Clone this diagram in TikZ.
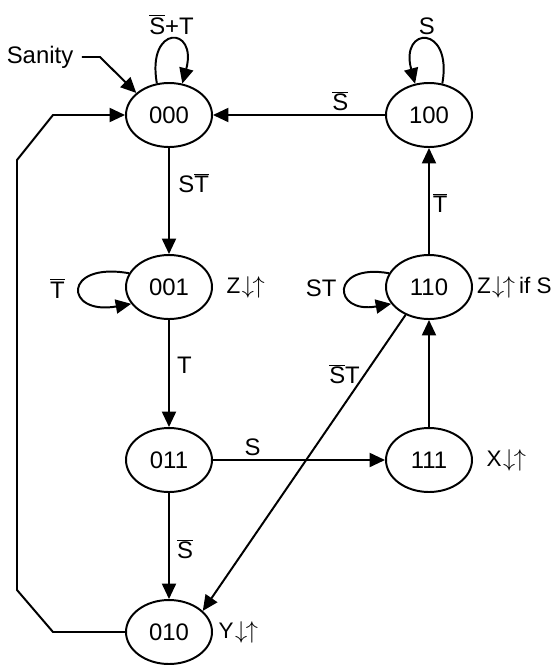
\documentclass[tikz,border=0pt]{standalone}
\usepackage{fontspec}
\setmainfont{Liberation Sans}
\usetikzlibrary{arrows.meta,positioning,shapes.geometric}
\newcommand\statefont{\fontsize{17}{20}\selectfont}
\newcommand\outfont{\fontsize{16}{19}\selectfont}
\newcommand\nt[1]{$\overline{\mbox{#1}}$}
\newcommand\dnup{$\mkern1mu\downarrow\mkern-1mu\uparrow$}
\tikzset{
  state/.style={ellipse, draw=black, line width=1.4pt, minimum width=2.15cm,
    minimum height=1.6cm, inner sep=0pt, font=\statefont},
  flow/.style={-{Triangle[length=11pt,width=10pt]}, draw=black, line width=1.4pt},
}
\begin{document}
\begin{tikzpicture}[
  lbl/.style={font=\statefont, inner sep=1pt},
  outlbl/.style={font=\outfont, inner sep=1pt},
]
\useasboundingbox (0,0) rectangle (14,-16.65);
% states
\node[state] at (4.225,-2.875)  (s000) {000};
\node[state] at (4.225,-7.175)  (s001) {001};
\node[state] at (4.225,-11.5)   (s011) {011};
\node[state] at (4.225,-15.8)   (s010) {010};
\node[state] at (10.725,-2.875) (s100) {100};
\node[state] at (10.725,-7.175) (s110) {110};
\node[state] at (10.725,-11.5)  (s111) {111};
% outputs
\node[outlbl, right=0.3 of s001] (o001) {Z\dnup};
\node[outlbl, right=0.06 of s110] (o110) {Z\dnup\hspace{0.18em}if S};
\node[outlbl, right=0.3 of s111] (o111) {X\dnup};
\node[outlbl, right=0.1 of s010] (o010) {Y\dnup};
% sanity entry
\node[lbl] at (1.0,-1.425) (sanity) {Sanity};
\coordinate (sbend) at (2.5,-1.425);
\draw[flow, shorten <=5pt] (sanity) -- (sbend) -- (s000.146);
% return path 010 -> 000
\coordinate (r1) at (1.325,-15.8);
\coordinate (r2) at (0.425,-14.75);
\coordinate (r3) at (0.425,-4.0);
\coordinate (r4) at (1.325,-2.875);
\draw[flow] (s010.west) -- (r1) -- (r2) -- (r3) -- (r4) -- (s000.west);
% self loops
\draw[flow] (s000.111) .. controls +(100:1.5) and +(75:1.5) .. node[lbl, above=2pt] {\nt{S}+T} (s000.67);
\draw[flow] (s100.67) .. controls +(80:1.5) and +(105:1.5) .. node[lbl, above=2pt] {S} (s100.114);
\draw[flow] (s001.161) .. controls +(170:1.7) and +(190:1.7) .. node[lbl, left=9pt] {\nt{T}} (s001.204);
\draw[flow] (s110.161) .. controls +(170:1.5) and +(190:1.5) .. node[lbl, left=5pt] {ST} (s110.204);
% transitions
\draw[flow] (s000) -- node[lbl, right=5pt, pos=0.33] {S\nt{T}} (s001);
\draw[flow] (s001) -- node[lbl, right=4pt, pos=0.42] {T} (s011);
\draw[flow] (s011) -- node[lbl, right=4pt, pos=0.53] {\nt{S}} (s010);
\draw[flow] (s011) -- node[lbl, above=1pt, pos=0.23] {S} (s111);
\draw[flow] (s100) -- node[lbl, above=1pt, pos=0.26] {\nt{S}} (s000);
\draw[flow] (s111) -- (s110);
\draw[flow] (s110) -- node[lbl, right=1pt, pos=0.48] {\nt{T}} (s100);
\draw[flow] (s110.230) -- node[lbl, left=2pt, pos=0.2] {\nt{S}T} (s010.32);
\end{tikzpicture}
\end{document}
